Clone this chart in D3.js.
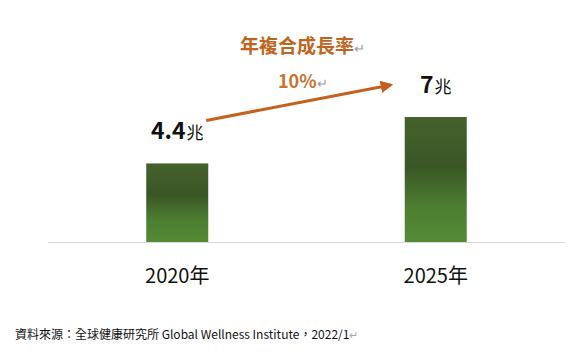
<!DOCTYPE html>
<html><head><meta charset="utf-8">
<script src="https://cdn.jsdelivr.net/npm/d3@7/dist/d3.min.js"></script>
<style>
html,body{margin:0;padding:0;background:#fff;}
svg{display:block;font-family:"Noto Sans CJK TC","Noto Sans",sans-serif;}
</style></head><body>
<svg id="c" width="581" height="355"></svg>
<script>
const categories = ["2020年", "2025年"];
const values = [4.4, 7];
const valueNumbers = ["4.4", "7"];
const valueUnit = "兆";
const cagrTitle = "年複合成長率";
const cagrValue = "10%";
const source = "資料來源：全球健康研究所 Global Wellness Institute，2022/1";
const returnMark = "↵";

const svg = d3.select("#c");
const x = d3.scalePoint().domain(categories).range([48, 565]).padding(0.5);
const y = d3.scaleLinear().domain([0, 7]).range([242, 117]);
const barW = 62;

const defs = svg.append("defs");
const g = defs.append("linearGradient").attr("id","gr").attr("x1",0).attr("y1",0).attr("x2",0).attr("y2",1);
[[0,"#44622d"],[0.4,"#3a5625"],[0.72,"#4c7e31"],[1,"#558b37"]].forEach(([o,c])=>
  g.append("stop").attr("offset",o).attr("stop-color",c));

// axis line
svg.append("line").attr("x1",48).attr("x2",565).attr("y1",242.5).attr("y2",242.5)
  .attr("stroke","#d9d9d9").attr("stroke-width",1.2);

svg.selectAll("rect.bar").data(values).join("rect").attr("class","bar")
  .attr("x",(d,i)=>x(categories[i])-barW/2).attr("width",barW)
  .attr("y",d=>y(d)).attr("height",d=>y(0)-y(d)).attr("fill","url(#gr)");

// category labels
svg.selectAll("text.cat").data(categories).join("text").attr("class","cat")
  .attr("x",d=>x(d)).attr("y",283).attr("text-anchor","middle")
  .attr("font-size",20).attr("fill","#111").text(d=>d);

// value labels
values.forEach((v,i)=>{
  const t = svg.append("text").attr("x",x(categories[i])).attr("y",y(v)-24)
    .attr("text-anchor","middle").attr("fill","#111");
  t.append("tspan").attr("font-size",23).attr("font-weight","bold").text(valueNumbers[i]);
  t.append("tspan").attr("font-size",17).attr("dx",1).text(valueUnit);
});

// arrow
defs.append("marker").attr("id","ah").attr("viewBox","0 0 10 10").attr("refX",8).attr("refY",5)
  .attr("markerWidth",4.2).attr("markerHeight",4.2).attr("orient","auto")
  .append("path").attr("d","M0,0L10,5L0,10z").attr("fill","#c4611c");
const x0 = x(categories[0]) + 29, y0 = y(values[0]) - 43;
const x1 = x(categories[1]) - 45, y1 = y(values[1]) - 32;
svg.append("line").attr("x1",x0).attr("y1",y0).attr("x2",x1).attr("y2",y1)
  .attr("stroke","#c4611c").attr("stroke-width",3).attr("marker-end","url(#ah)");

// CAGR text
const t1 = svg.append("text").attr("x",240).attr("y",53);
t1.append("tspan").attr("font-size",19).attr("font-weight","bold").attr("fill","#c0651f").text(cagrTitle);
t1.append("tspan").attr("font-size",13).attr("fill","#9a9a9a").text(returnMark);
const t2 = svg.append("text").attr("x",278).attr("y",88);
t2.append("tspan").attr("font-size",18).attr("font-weight","bold").attr("fill","#c8732f").text(cagrValue);
t2.append("tspan").attr("font-size",13).attr("fill","#9a9a9a").text(returnMark);

// source
const s = svg.append("text").attr("x",15).attr("y",339).attr("font-size",12).attr("fill","#111");
s.append("tspan").text(source);
s.append("tspan").attr("fill","#aaa").attr("font-size",11).text(returnMark);
</script>
</body></html>
